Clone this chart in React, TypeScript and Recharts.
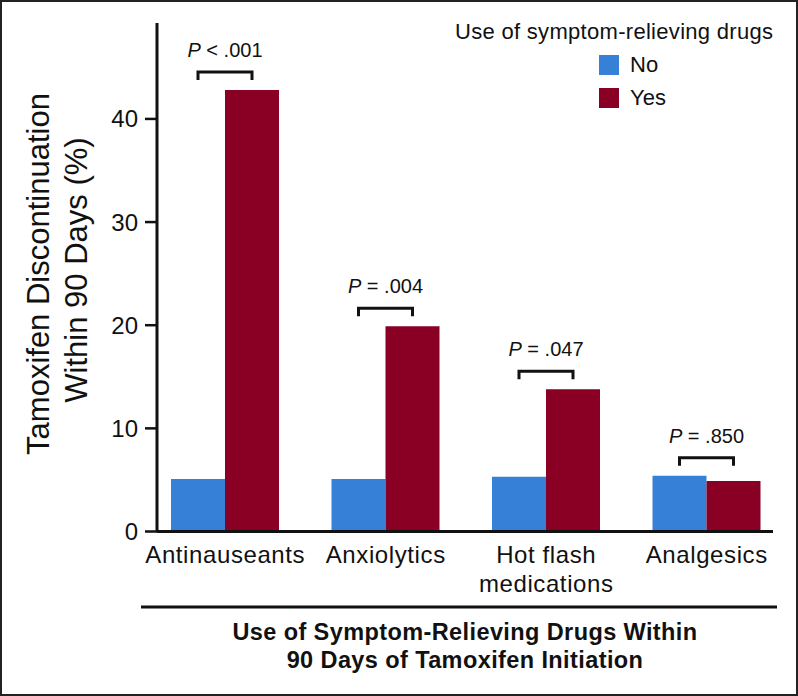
import React from 'react';
import { BarChart, Bar, XAxis, YAxis, Legend, LabelList } from 'recharts';

const categories = ['Antinauseants', 'Anxiolytics', 'Hot flash\nmedications', 'Analgesics'];
const noValues = [5.1, 5.1, 5.3, 5.4];
const yesValues = [42.8, 19.9, 13.8, 4.9];
const pValues = ['< .001', '= .004', '= .047', '= .850'];
const yTicks = [0, 10, 20, 30, 40];

const FONT = '"Liberation Sans", Arial, Helvetica, sans-serif';
const BLUE = '#3780d8';
const RED = '#8a0024';
const INK = '#111';

const chartData = categories.map((c, i) => ({ name: c, no: noValues[i], yes: yesValues[i], p: pValues[i] }));

const XTick = (props: any) => {
  const { x, y, payload } = props;
  const lines = String(payload.value).split('\n');
  return (
    <text x={x} y={y} textAnchor="middle" fontSize={24} fontFamily={FONT} fill={INK} letterSpacing={0.6}>
      {lines.map((l, i) => (
        <tspan key={i} x={x} dy={i === 0 ? '0.71em' : 29}>{l}</tspan>
      ))}
    </text>
  );
};

// bracket + P value drawn above each pair of bars
const Bracket = (props: any) => {
  const { x, y, width, height, value, index } = props;
  const base = y + height;
  const ppu = height / value;
  const blueTop = base - noValues[index] * ppu;
  const top = Math.min(y, blueTop);
  const by = top - 18;
  const x1 = x - width / 2;
  const x2 = x + width / 2;
  return (
    <g>
      <path d={`M${x1},${by + 8}V${by}H${x2}V${by + 8}`} fill="none" stroke={INK} strokeWidth={3} />
      <text x={(x1 + x2) / 2} y={by - 15} textAnchor="middle" fontSize={20} fontFamily={FONT} fill={INK}>
        <tspan fontStyle="italic">P</tspan>
        <tspan> {pValues[index]}</tspan>
      </text>
    </g>
  );
};

const YLabel = () => (
  <g fontFamily={FONT} fontSize={31} fill={INK}>
    <text x={49} y={274} textAnchor="middle" transform="rotate(-90, 49, 274)">Tamoxifen Discontinuation</text>
    <text x={87} y={270} textAnchor="middle" transform="rotate(-90, 87, 270)">Within 90 Days (%)</text>
  </g>
);

const XTitle = (props: any) => {
  const { viewBox } = props;
  const cx = viewBox.x + viewBox.width / 2;
  return (
    <g>
      <line x1={viewBox.x - 16} x2={viewBox.x + viewBox.width + 4} y1={607} y2={607} stroke={INK} strokeWidth={3} />
      <text x={cx} y={640} textAnchor="middle" fontFamily={FONT} fontSize={23.5} fontWeight="bold" fill={INK} letterSpacing={0.4}>
        Use of Symptom-Relieving Drugs Within
      </text>
      <text x={cx} y={668} textAnchor="middle" fontFamily={FONT} fontSize={23.5} fontWeight="bold" fill={INK} letterSpacing={0.4}>
        90 Days of Tamoxifen Initiation
      </text>
    </g>
  );
};

const LegendBox = () => (
  <div style={{ fontFamily: FONT, color: INK }}>
    <div style={{ fontSize: 22, lineHeight: '26px', height: 29.5, whiteSpace: 'nowrap', letterSpacing: 0.3 }}>
      Use of symptom-relieving drugs
    </div>
    {[{ label: 'No', color: BLUE }, { label: 'Yes', color: RED }].map((it) => (
      <div key={it.label} style={{ display: 'flex', alignItems: 'center', height: 33, marginLeft: 144 }}>
        <div style={{ width: 20, height: 20, background: it.color, marginRight: 11 }} />
        <span style={{ fontSize: 22 }}>{it.label}</span>
      </div>
    ))}
  </div>
);

export default function App() {
  return (
    <div style={{ position: 'absolute', left: 0, top: 0, width: 798, height: 696, background: '#fff' }}>
      <BarChart
        width={798}
        height={696}
        data={chartData}
        margin={{ top: 23, right: 25, bottom: 24.5, left: 0 }}
        barGap={0}
      >
        <XAxis
          dataKey="name"
          height={140}
          padding={{ left: -12, right: -14 }}
          tickLine={false}
          tickMargin={8}
          interval={0}
          tick={<XTick />}
          axisLine={{ stroke: INK, strokeWidth: 3 }}
          label={<XTitle />}
        />
        <YAxis
          width={157}
          domain={[0, 49.3]}
          ticks={yTicks}
          tickSize={12}
          tickMargin={7}
          tick={{ fontSize: 24, fill: INK, fontFamily: FONT }}
          tickLine={{ stroke: INK, strokeWidth: 2.5 }}
          axisLine={{ stroke: INK, strokeWidth: 3 }}
          label={<YLabel />}
        />
        <Legend
          layout="vertical"
          align="center"
          verticalAlign="middle"
          wrapperStyle={{ left: 455, top: 19, width: 330 }}
          content={<LegendBox />}
        />
        <Bar dataKey="no" name="No" fill={BLUE} barSize={54} isAnimationActive={false} />
        <Bar dataKey="yes" name="Yes" fill={RED} barSize={54} isAnimationActive={false}>
          <LabelList dataKey="yes" content={<Bracket />} />
        </Bar>
      </BarChart>
      <div style={{ position: 'absolute', left: 0, top: 0, width: 798, height: 696, boxSizing: 'border-box', border: '2px solid #222', pointerEvents: 'none' }} />
    </div>
  );
}
